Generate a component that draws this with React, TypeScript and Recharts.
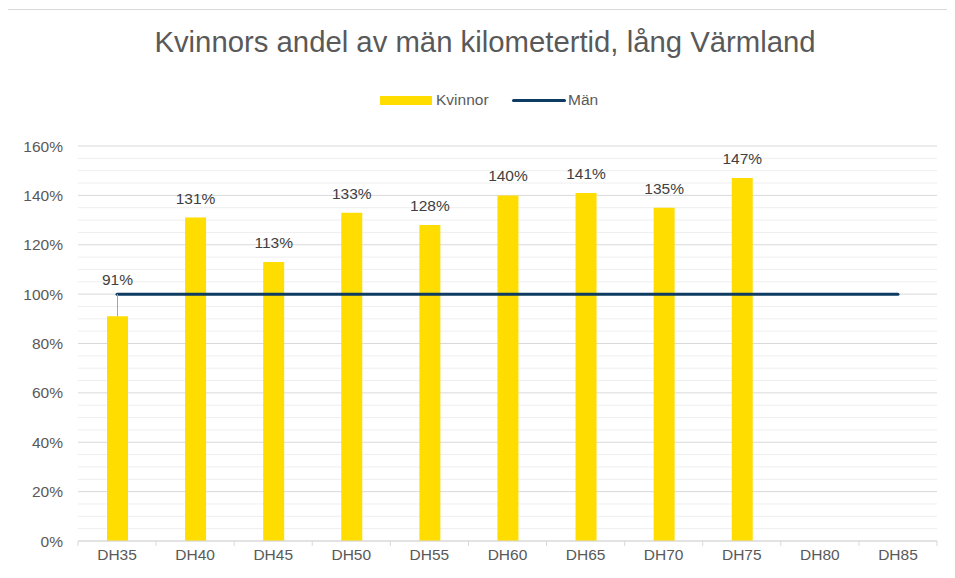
import React from "react";
import { Bar, CartesianGrid, ComposedChart, Line, XAxis, YAxis } from "recharts";

const categories = ["DH35", "DH40", "DH45", "DH50", "DH55", "DH60", "DH65", "DH70", "DH75", "DH80", "DH85"];
const kvinnor = [91, 131, 113, 133, 128, 140, 141, 135, 147, null, null];
const man = [100, 100, 100, 100, 100, 100, 100, 100, 100, 100, 100];
const majorTicks = [0, 20, 40, 60, 80, 100, 120, 140, 160];
const minorTicks = [
  5, 10, 15, 25, 30, 35, 45, 50, 55, 65, 70, 75,
  85, 90, 95, 105, 110, 115, 125, 130, 135, 145, 150, 155,
];
const Y_MAX = 160;

const data = categories.map((c, i) => ({ name: c, kvinnor: kvinnor[i], man: man[i] }));

const FONT = '"Liberation Sans", Arial, sans-serif';
const YELLOW = "#FFDD00";
const NAVY = "#0D3B61";
const PLOT_LEFT = 78;
const PLOT_RIGHT = 937;
const BAND = (PLOT_RIGHT - PLOT_LEFT) / categories.length;

// eslint-disable-next-line @typescript-eslint/no-explicit-any
const XTick = (props: any) => {
  const { x, y, payload, index } = props;
  return (
    <g>
      <line x1={x - BAND / 2} x2={x - BAND / 2} y1={y} y2={y + 5} stroke="#d9d9d9" />
      {index === categories.length - 1 && (
        <line x1={x + BAND / 2} x2={x + BAND / 2} y1={y} y2={y + 5} stroke="#d9d9d9" />
      )}
      <text x={x} y={y + 19} textAnchor="middle" fill="#595959" fontSize={15.5} fontFamily={FONT}>
        {payload.value}
      </text>
    </g>
  );
};

// eslint-disable-next-line @typescript-eslint/no-explicit-any
const BarLabel = (props: any) => {
  const { x, y, width, height, value } = props;
  if (value == null) return null;
  const cx = x + width / 2;
  if (value < 100) {
    const y100 = y + height - (height * 100) / value;
    return (
      <g>
        <line x1={cx} x2={cx} y1={y100} y2={y} stroke="#a6a6a6" strokeWidth={1} />
        <text x={cx} y={y100 - 9} textAnchor="middle" fill="#404040" fontSize={15.5} fontFamily={FONT}>
          {`${value}%`}
        </text>
      </g>
    );
  }
  return (
    <text x={cx} y={y - 14} textAnchor="middle" fill="#404040" fontSize={15.5} fontFamily={FONT}>
      {`${value}%`}
    </text>
  );
};

// minor grid rows every 5%
// eslint-disable-next-line @typescript-eslint/no-explicit-any
const minorRows = ({ yAxis, offset }: any) =>
  minorTicks.map((t) => {
    const s = yAxis && yAxis.scale;
    if (typeof s === "function") return s(t);
    if (s && typeof s.map === "function") return s.map(t);
    return offset.top + offset.height * (1 - t / Y_MAX);
  });

export default function App() {
  return (
    <div
      style={{
        position: "relative",
        width: 955,
        height: 578,
        margin: -8,
        overflow: "hidden",
        background: "#fff",
        fontFamily: FONT,
      }}
    >
      <div
        style={{
          position: "absolute",
          left: 0,
          width: 970,
          top: 25,
          textAlign: "center",
          fontSize: 29.3,
          color: "#595959",
          whiteSpace: "nowrap",
        }}
      >
        Kvinnors andel av män kilometertid, lång Värmland
      </div>
      <div style={{ position: "absolute", left: 380, top: 96, width: 52, height: 9, background: YELLOW }} />
      <div style={{ position: "absolute", left: 436, top: 91, fontSize: 15.5, color: "#595959" }}>Kvinnor</div>
      <div
        style={{
          position: "absolute",
          left: 512,
          top: 98.5,
          width: 54,
          height: 3,
          borderRadius: 2,
          background: NAVY,
        }}
      />
      <div style={{ position: "absolute", left: 568, top: 91, fontSize: 15.5, color: "#595959" }}>Män</div>
      <div style={{ position: "absolute", left: 0, top: 0 }}>
        <ComposedChart
          width={955}
          height={578}
          data={data}
          margin={{ top: 146, right: 955 - PLOT_RIGHT, bottom: 7, left: PLOT_LEFT - 60 }}
        >
          <CartesianGrid
            vertical={false}
            stroke="#eeeeee"
            strokeWidth={1}
            horizontalCoordinatesGenerator={minorRows}
          />
          <CartesianGrid vertical={false} stroke="#d9d9d9" strokeWidth={1} />
          <XAxis
            dataKey="name"
            height={30}
            tickLine={false}
            tickSize={0}
            tickMargin={0}
            axisLine={{ stroke: "#d9d9d9" }}
            tick={<XTick />}
            interval={0}
          />
          <YAxis
            width={60}
            domain={[0, Y_MAX]}
            ticks={majorTicks}
            tickFormatter={(v) => `${v}%`}
            axisLine={false}
            tickLine={false}
            tickSize={0}
            tickMargin={15}
            tick={{ fill: "#595959", fontSize: 15.5, fontFamily: FONT }}
          />
          <Bar
            dataKey="kvinnor"
            fill={YELLOW}
            barSize={21}
            isAnimationActive={false}
            label={<BarLabel />}
          />
          <Line
            dataKey="man"
            stroke={NAVY}
            strokeWidth={3}
            strokeLinecap="round"
            dot={false}
            activeDot={false}
            isAnimationActive={false}
          />
        </ComposedChart>
      </div>
      <div
        style={{
          position: "absolute",
          left: 4,
          top: 9,
          width: 1000,
          height: 600,
          boxSizing: "border-box",
          borderLeft: "2px solid #d9d9d9",
          borderTop: "1px solid #d9d9d9",
          zIndex: 10,
          pointerEvents: "none",
        }}
      />
    </div>
  );
}
